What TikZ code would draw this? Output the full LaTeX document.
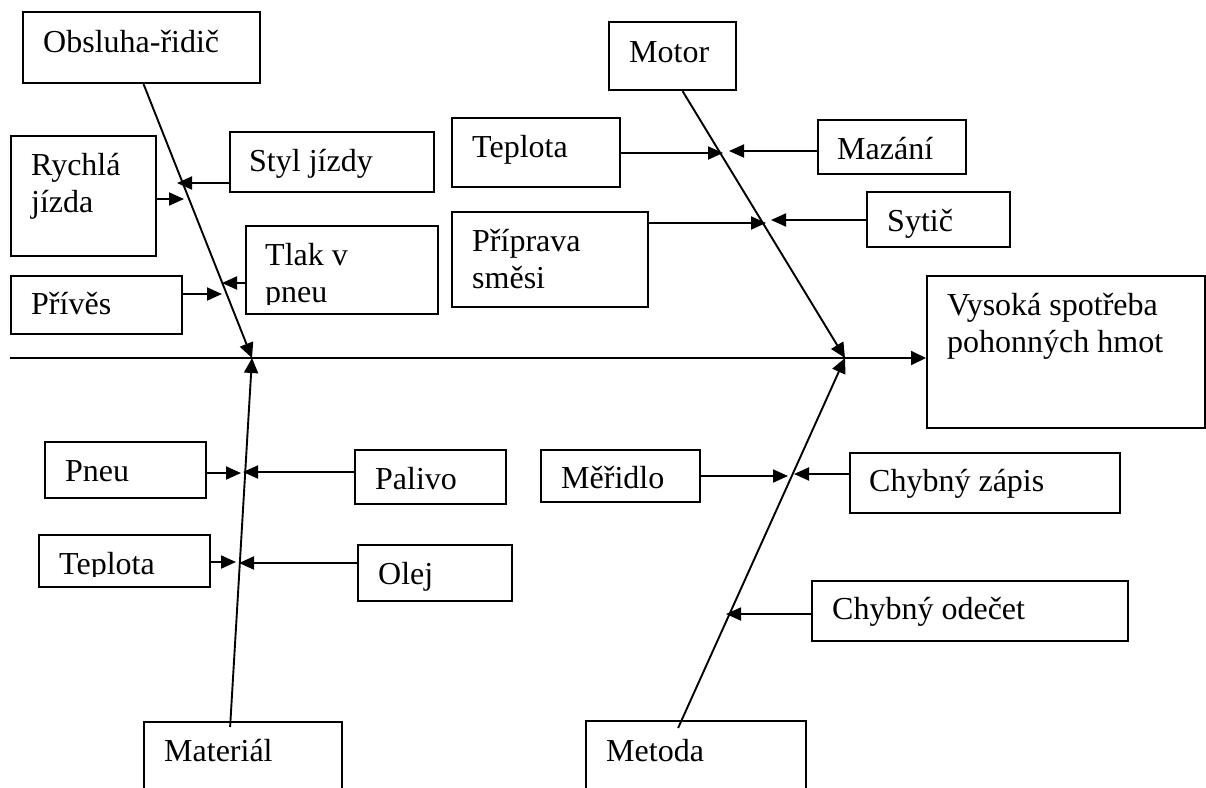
\documentclass[tikz,border=0pt]{standalone}
\usepackage{fontspec}
\setmainfont{Liberation Serif}
\usetikzlibrary{arrows.meta}
\newcommand{\fishfont}{\fontsize{32}{37}\selectfont}

\begin{document}
\begin{tikzpicture}[
  x=1pt, y=-1pt,
  cause/.style 2 args={draw,line width=2.2pt,anchor=north west,inner sep=0pt,minimum width=#1,minimum height=#2},
  txt/.style={anchor=base west,align=left,inner sep=0pt,font=\fishfont},
  bone/.style={-{Triangle[length=15pt,width=14pt]},line width=1.9pt},
  edge/.style={-{Triangle[length=15pt,width=13pt]},line width=1.9pt}
]
\useasboundingbox[fill=white] (0,0) rectangle (1206,787);

% boxes
\node[cause={237pt}{71pt}] (obsl) at (22,11) {};
\node[cause={145pt}{120pt}] (rych) at (10,135) {};
\node[cause={204pt}{60pt}] (styl) at (229,131) {};
\node[cause={192pt}{88pt}] (tlak) at (245,225) {};
\node[cause={171pt}{58pt}] (priv) at (10,275) {};
\node[cause={127pt}{68pt}] (motor) at (608,21) {};
\node[cause={168pt}{69pt}] (tepl) at (451,117) {};
\node[cause={148pt}{54pt}] (maz) at (817,119) {};
\node[cause={143pt}{55pt}] (syt) at (866,191) {};
\node[cause={196pt}{95pt}] (prip) at (451,211) {};
\node[cause={278pt}{152pt}] (goal) at (926,275) {};
\node[cause={161pt}{56pt}] (pneu) at (44,441) {};
\node[cause={151pt}{54pt}] (pal) at (354,449) {};
\node[cause={171pt}{52pt}] (tepl2) at (38,534) {};
\node[cause={154pt}{56pt}] (olej) at (357,544) {};
\node[cause={198pt}{100pt}] (mat) at (143,721) {};
\node[cause={159pt}{52pt}] (mer) at (540,449) {};
\node[cause={270pt}{60pt}] (zap) at (849,452) {};
\node[cause={316pt}{60pt}] (ode) at (811,580) {};
\node[cause={220pt}{100pt}] (met) at (585,720) {};

% texts (two-line texts sit on their last baseline)
\node[txt] (obsl-t) at ([xshift=21pt,yshift=-41pt]obsl.north west) {Obsluha-řidič};
\node[txt] (rych-t) at ([xshift=21pt,yshift=-77pt]rych.north west) {Rychlá\\jízda};
\node[txt] (styl-t) at ([xshift=20pt,yshift=-40pt]styl.north west) {Styl jízdy};
\begin{scope}
  \clip (tlak.north west) rectangle ([yshift=11pt]tlak.south east);
  \node[txt] (tlak-t) at ([xshift=20pt,yshift=-77pt]tlak.north west) {Tlak v\\pneu};
\end{scope}
\node[txt] (priv-t) at ([xshift=21pt,yshift=-39pt]priv.north west) {Přívěs};
\node[txt] (motor-t) at ([xshift=21pt,yshift=-41pt]motor.north west) {Motor};
\node[txt] (tepl-t) at ([xshift=21pt,yshift=-40pt]tepl.north west) {Teplota};
\node[txt] (maz-t) at ([xshift=20pt,yshift=-40pt]maz.north west) {Mazání};
\node[txt] (syt-t) at ([xshift=21pt,yshift=-40pt]syt.north west) {Sytič};
\node[txt] (prip-t) at ([xshift=21pt,yshift=-77pt]prip.north west) {Příprava\\směsi};
\node[txt] (goal-t) at ([xshift=21pt,yshift=-77pt]goal.north west) {Vysoká spotřeba\\pohonných hmot};
\node[txt] (pneu-t) at ([xshift=21pt,yshift=-40pt]pneu.north west) {Pneu};
\node[txt] (pal-t) at ([xshift=21pt,yshift=-40pt]pal.north west) {Palivo};
\begin{scope}
  \clip (tepl2.north west) rectangle ([yshift=12pt]tepl2.south east);
  \node[txt] (tepl2-t) at ([xshift=21pt,yshift=-40pt]tepl2.north west) {Teplota};
\end{scope}
\begin{scope}
  \clip (olej.north west) rectangle ([yshift=10pt]olej.south east);
  \node[txt] (olej-t) at ([xshift=21pt,yshift=-40pt]olej.north west) {Olej};
\end{scope}
\node[txt] (mat-t) at ([xshift=21pt,yshift=-40pt]mat.north west) {Materiál};
\node[txt] (mer-t) at ([xshift=21pt,yshift=-39pt]mer.north west) {Měřidlo};
\node[txt] (zap-t) at ([xshift=20pt,yshift=-39pt]zap.north west) {Chybný zápis};
\node[txt] (ode-t) at ([xshift=21pt,yshift=-39pt]ode.north west) {Chybný odečet};
\node[txt] (met-t) at ([xshift=21pt,yshift=-41pt]met.north west) {Metoda};

% spine and bones
\coordinate (tail) at (10,358);
\coordinate (jL) at (252,358);
\coordinate (jR) at (845,358);
\draw[bone] (tail) -- (goal.west |- tail);
\draw[bone] ([xshift=2pt]obsl.south) -- (jL);
\draw[bone] ([xshift=10pt]motor.south) -- (jR);
\draw[bone] ([xshift=-13pt,yshift=-6pt]mat.north) -- (jL);
\draw[bone] ([xshift=-18pt,yshift=-8pt]met.north) -- (jR);

% causes into bones
\coordinate (hit-rych) at (184,199);
\coordinate (hit-styl) at (177,183);
\coordinate (hit-tlak) at (222,283);
\coordinate (hit-priv) at (222,294);
\coordinate (hit-tepl) at (723,153);
\coordinate (hit-maz) at (729,151);
\coordinate (hit-prip) at (766,223);
\coordinate (hit-syt) at (771,220);
\coordinate (hit-pneu) at (241,473);
\coordinate (hit-pal) at (243,472);
\coordinate (hit-tepl2) at (236,562);
\coordinate (hit-olej) at (239,563);
\coordinate (hit-mer) at (788,476);
\coordinate (hit-zap) at (794,474);
\coordinate (hit-ode) at (726,614);

\draw[edge] (rych.east |- hit-rych) -- (hit-rych);
\draw[edge] (styl.west |- hit-styl) -- (hit-styl);
\draw[edge] (tlak.west |- hit-tlak) -- (hit-tlak);
\draw[edge] (priv.east |- hit-priv) -- (hit-priv);
\draw[edge] (tepl.east |- hit-tepl) -- (hit-tepl);
\draw[edge] (maz.west |- hit-maz) -- (hit-maz);
\draw[edge] (prip.east |- hit-prip) -- (hit-prip);
\draw[edge] (syt.west |- hit-syt) -- (hit-syt);
\draw[edge] (pneu.east |- hit-pneu) -- (hit-pneu);
\draw[edge] (pal.west |- hit-pal) -- (hit-pal);
\draw[edge] (tepl2.east |- hit-tepl2) -- (hit-tepl2);
\draw[edge] (olej.west |- hit-olej) -- (hit-olej);
\draw[edge] (mer.east |- hit-mer) -- (hit-mer);
\draw[edge] (zap.west |- hit-zap) -- (hit-zap);
\draw[edge] (ode.west |- hit-ode) -- (hit-ode);
\end{tikzpicture}
\end{document}
